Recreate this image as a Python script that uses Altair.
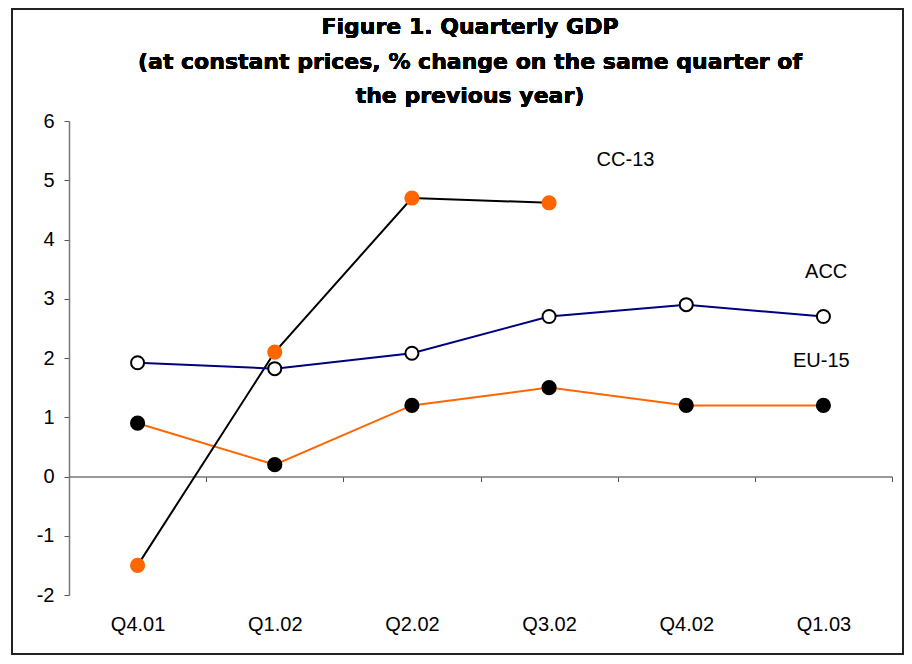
import altair as alt
import pandas as pd

quarters = ["Q4.01", "Q1.02", "Q2.02", "Q3.02", "Q4.02", "Q1.03"]
cc13 = [-1.5, 2.1, 4.7, 4.62, None, None]
acc = [1.92, 1.82, 2.08, 2.7, 2.9, 2.7]
eu15 = [0.9, 0.2, 1.2, 1.5, 1.2, 1.2]

label_text = ["CC-13", "ACC", "EU-15"]
label_quarter = ["Q4.02", "Q1.03", "Q1.03"]
label_y = [5.34, 3.45, 1.95]
label_band = [0.057, 0.52, 0.485]

title_lines = ["Figure 1. Quarterly GDP",
               "(at constant prices, % change on the same quarter of",
               "the previous year)"]

FONT = "Liberation Sans"
TITLE_FONT = "DejaVu Sans"

def frame(vals, name):
    return pd.DataFrame({"quarter": quarters, "value": vals, "series": name}).dropna()

df_cc = frame(cc13, "CC-13")
df_acc = frame(acc, "ACC")
df_eu = frame(eu15, "EU-15")

xscale = alt.Scale(type="band", domain=quarters, paddingInner=0, paddingOuter=0)
yscale = alt.Scale(domain=[-2, 6], nice=False, zero=False)

x_axis = alt.Axis(
    title=None, orient="bottom", offset=-118.5, tickBand="extent",
    domainColor="#777777", tickColor="#555555", tickSize=5, domainWidth=1.5,
    labelPadding=133, labelFont=FONT, labelFontSize=20, labelColor="black", labelAngle=0,
)
y_axis = alt.Axis(
    title=None, values=list(range(-2, 7)), grid=False,
    domainColor="#777777", tickColor="#555555", tickSize=5, domainWidth=1.5,
    labelPadding=10, labelFont=FONT, labelFontSize=20, labelColor="black",
    labelExpr="toString(datum.value)",
)

X = alt.X("quarter:N", scale=xscale, bandPosition=0.5, axis=x_axis, sort=quarters)
Y = alt.Y("value:Q", scale=yscale, axis=y_axis)

base_eu = alt.Chart(df_eu).encode(x=X, y=Y)
eu_line = base_eu.mark_line(color="#FF6600", strokeWidth=2)
eu_pts = base_eu.mark_point(filled=True, color="black", size=230, opacity=1, shape="circle")

base_cc = alt.Chart(df_cc).encode(x=X, y=Y)
cc_line = base_cc.mark_line(color="black", strokeWidth=2)
cc_pts = base_cc.mark_point(filled=True, color="#FF6600", size=230, opacity=1, shape="circle")

base_acc = alt.Chart(df_acc).encode(x=X, y=Y)
acc_line = base_acc.mark_line(color="#000080", strokeWidth=2)
acc_pts = base_acc.mark_point(filled=True, fill="white", stroke="black", strokeWidth=2,
                              size=170, opacity=1, shape="circle")

df_lab = pd.DataFrame({"text": label_text, "quarter": label_quarter, "value": label_y})
labels = alt.layer(*[
    alt.Chart(df_lab.iloc[[i]]).mark_text(font=FONT, fontSize=20, color="black",
                                           align="center", baseline="middle").encode(
        x=alt.X("quarter:N", scale=xscale, bandPosition=float(label_band[i]), axis=x_axis, sort=quarters),
        y=Y, text="text:N")
    for i in range(len(label_text))
])

title = alt.Chart(df_acc).mark_text(
    text="\n".join(title_lines), lineBreak="\n", lineHeight=34.5,
    font=TITLE_FONT, fontSize=22, fontWeight="bold", color="black",
    align="center", baseline="alphabetic",
).encode(x=alt.value(401), y=alt.value(-87))

border = alt.Chart(df_acc).mark_rect(fill=None, stroke="#222222", strokeWidth=2).encode(
    x=alt.value(-57), x2=alt.value(834), y=alt.value(-112), y2=alt.value(533)
)

chart = alt.layer(
    eu_line, eu_pts, cc_line, cc_pts, acc_line, acc_pts, labels, title, border
).properties(
    width=823, height=474,
    autosize=alt.AutoSizeParams(type="none"),
    padding={"left": 61, "top": 113, "right": 12, "bottom": 61},
    background="white",
).configure_view(strokeWidth=0, stroke="transparent")

chart.save("out.html", embed_options={"renderer": "svg", "actions": False})
